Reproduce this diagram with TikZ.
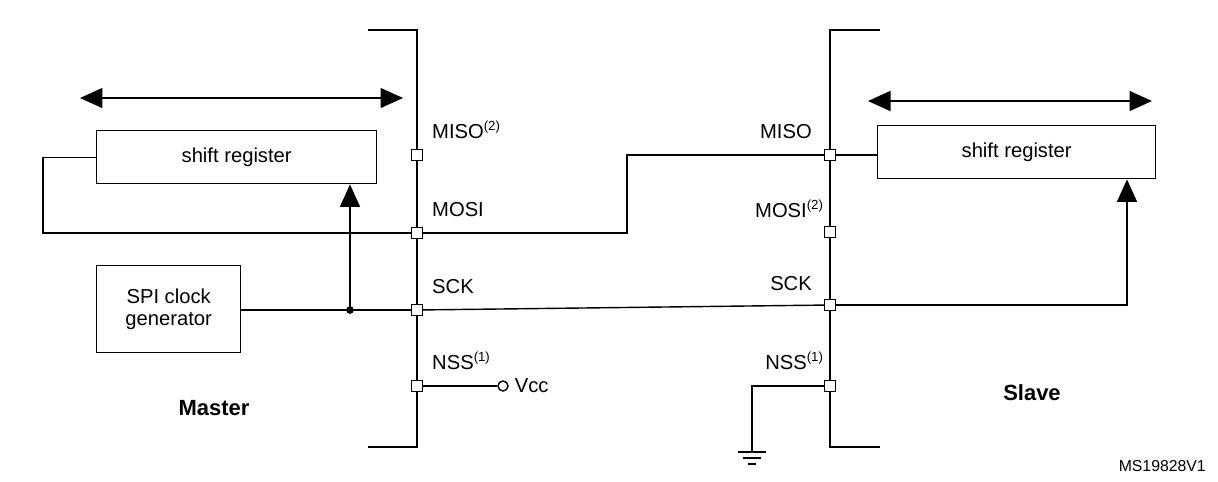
\documentclass[tikz,border=0pt]{standalone}
\usepackage{fontspec}
\setmainfont{Liberation Sans}
\usetikzlibrary{arrows.meta, calc, positioning}
\newcommand{\nt}[1]{\textsuperscript{\fontsize{7.5}{8}\selectfont(#1)}}

\begin{document}
\begin{tikzpicture}
			[x=0.02cm, y=-0.02cm, font=\fontsize{11.5}{13}\selectfont,
			pin/.style={draw, thick, fill=white, minimum size=0.22cm, inner sep=0pt},
			box/.style={draw, thick, anchor=north west, align=center},
			wire/.style={thick},
			bigarrow/.style={thick, -{Triangle[length=0.45cm, width=0.4cm]}},
			dblarrow/.style={thick, {Triangle[length=0.45cm, width=0.4cm]}-{Triangle[length=0.45cm, width=0.4cm]}}]
			\useasboundingbox (0,0) rectangle (1218,481);
			% chip edges
			\draw[wire] (368,30) -- (417,30) -- (417,447) -- (368,447);
			\draw[wire] (880,30) -- (830,30) -- (830,447) -- (880,447);
			% boxes
			\node[box, minimum width=5.6cm, minimum height=1.06cm] (mreg) at (96,130) {shift register};
			\node[box, minimum width=5.56cm, minimum height=1.06cm] (sreg) at (877,125) {shift register};
			\node[box, minimum width=2.88cm, minimum height=1.74cm] (clk) at (96,265) {SPI clock\\generator};
			% pins
			\node[pin] (mmiso) at (417,155) {};
			\node[pin] (mmosi) at (417,233) {};
			\node[pin] (msck) at (417,310) {};
			\node[pin] (mnss) at (417,386) {};
			\node[pin] (smiso) at (830,155) {};
			\node[pin] (smosi) at (830,232) {};
			\node[pin] (ssck) at (830,305) {};
			\node[pin] (snss) at (830,386) {};
			% pin labels
			\node[anchor=south west] at (426,145) {MISO\nt{2}};
			\node[anchor=south west] at (426,223) {MOSI};
			\node[anchor=south west] at (426,300) {SCK};
			\node[anchor=south west] at (426,376) {NSS\nt{1}};
			\node[anchor=south east] at (818,145) {MISO};
			\node[anchor=south east] at (830,224) {MOSI\nt{2}};
			\node[anchor=south east] at (818,297) {SCK};
			\node[anchor=south east] at (830,376) {NSS\nt{1}};
			\node[font=\fontsize{12.5}{14}\bfseries\selectfont] (master) at (214,408) {Master};
			\node[font=\fontsize{12.5}{14}\bfseries\selectfont] (slave) at (1032,393) {Slave};
			\node[font=\fontsize{9}{10}\selectfont, anchor=east] (ref) at (1212,466) {MS19828V1};
			% double arrows
			\coordinate (ma1) at (80,98);
			\coordinate (ma2) at (403,98);
			\coordinate (sa1) at (868,101);
			\coordinate (sa2) at (1152,101);
			\draw[dblarrow] (ma1) -- (ma2);
			\draw[dblarrow] (sa1) -- (sa2);
			% data lines
			\draw[wire] (mreg.west) -| (43,233) -- (mmosi);
			\draw[wire] (mmosi) -- (627,233) |- (smiso);
			\draw[wire] (smiso) -- (sreg.west |- smiso);
			% clock
			\coordinate (tap) at (350,310);
			\coordinate (bend) at (1127,305);
			\draw[wire] (clk.east |- tap) -- (msck);
			\fill (tap) circle (2.2pt);
			\draw[bigarrow] (tap) -- (tap |- mreg.south);
			\draw[wire] (msck) -- (ssck);
			\draw[bigarrow] (ssck) -- (bend) -- (bend |- sreg.south);
			% nss
			\node[draw, thick, circle, inner sep=0pt, minimum size=0.2cm] (vcc) at (503,386) {};
			\node[anchor=west] at (vcc.east) {Vcc};
			\draw[wire] (mnss) -- (vcc);
			\coordinate (gnd) at (752,452);
			\draw[wire] (snss) -- (752,386) -- (gnd);
			\draw[wire] ($(gnd)+(-14,0)$) -- ($(gnd)+(14,0)$);
			\draw[wire] ($(gnd)+(-9,6)$) -- ($(gnd)+(9,6)$);
			\draw[wire] ($(gnd)+(-4,12)$) -- ($(gnd)+(4,12)$);
		\end{tikzpicture}
\end{document}
